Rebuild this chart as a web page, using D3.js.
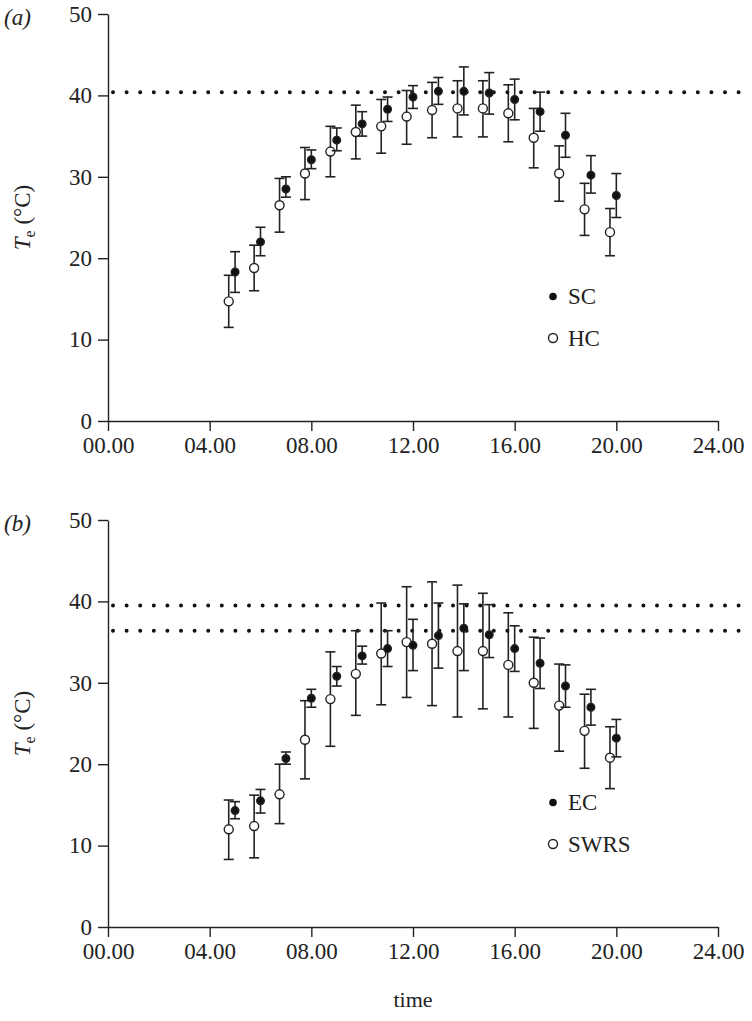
<!DOCTYPE html><html><head><meta charset="utf-8"><script src="https://cdn.jsdelivr.net/npm/d3@7"></script>
<style>body{margin:0;background:#fff}text{font-family:"Liberation Serif","DejaVu Serif",serif;fill:#222}</style></head><body>
<svg id="c" width="752" height="1021"></svg>
<script>
const hours=[5,6,7,8,9,10,11,12,13,14,15,16,17,18,19,20];
const xTicks=["00.00","04.00","08.00","12.00","16.00","20.00","24.00"];
const yTicks=[0,10,20,30,40,50];
const scMean=[18.3,22.0,28.5,32.1,34.5,36.5,38.3,39.8,40.5,40.5,40.3,39.5,38.0,35.1,30.2,27.7];
const scLo=[15.8,20.3,27.5,31.0,33.2,35.0,36.8,38.4,38.9,37.6,37.7,37.0,35.6,32.4,28.0,25.0];
const scHi=[20.8,23.8,30.0,33.3,36.0,38.0,39.8,41.2,42.2,43.5,42.8,42.0,40.4,37.8,32.6,30.4];
const hcMean=[14.7,18.8,26.5,30.4,33.1,35.5,36.2,37.4,38.2,38.4,38.4,37.8,34.8,30.4,26.0,23.2];
const hcLo=[11.5,16.0,23.2,27.2,30.0,32.2,32.9,34.0,34.8,34.9,34.9,34.3,31.1,27.0,22.8,20.3];
const hcHi=[17.9,21.6,29.8,33.6,36.2,38.8,39.5,40.6,41.6,41.8,41.8,41.3,38.4,33.8,29.2,26.1];
const ecMean=[14.3,15.5,20.7,28.1,30.8,33.3,34.2,34.6,35.8,36.7,35.9,34.2,32.4,29.6,27.0,23.2];
const ecLo=[13.3,14.0,20.0,27.0,29.6,32.3,32.0,31.5,31.8,31.5,33.1,31.4,29.3,27.0,24.8,20.9];
const ecHi=[15.4,16.9,21.5,29.2,32.0,34.5,36.4,37.8,39.8,39.7,39.6,37.0,35.5,32.2,29.2,25.5];
const swMean=[12.0,12.4,16.3,23.0,28.0,31.1,33.6,35.0,34.8,33.9,33.9,32.2,30.0,27.2,24.1,20.8];
const swLo=[8.3,8.5,12.7,18.2,22.2,26.0,27.3,28.2,27.2,25.8,26.8,25.8,24.4,21.6,19.5,17.0];
const swHi=[15.6,16.2,20.0,27.8,33.8,36.4,39.8,41.8,42.4,42.0,41.0,38.6,35.6,32.3,28.6,24.6];
const refA=[40.4], refB=[39.5,36.4];
const svg=d3.select("#c");
function styleAxis(a){a.selectAll("text").attr("font-size",23);a.select(".domain").attr("stroke","#222").attr("stroke-width",1.4);a.selectAll("line").attr("stroke","#222").attr("stroke-width",1.4);}
function panel(top,bottom,label,filled,open,names,refs){
  const x=d3.scaleLinear().domain([0,24]).range([108,718]);
  const y=d3.scaleLinear().domain([0,50]).range([bottom,top]);
  const g=svg.append("g");
  g.append("g").attr("transform",`translate(0,${bottom})`).call(d3.axisBottom(x).tickValues([0,4,8,12,16,20,24]).tickFormat((d,i)=>xTicks[i]).tickSize(10).tickSizeOuter(0).tickPadding(6)).call(styleAxis);
  g.append("g").attr("transform",`translate(108,0)`).call(d3.axisLeft(y).tickValues(yTicks).tickSize(10).tickSizeOuter(0).tickPadding(6)).call(styleAxis);
  refs.forEach(r=>g.append("line").attr("x1",x(0)+5).attr("x2",740).attr("y1",y(r)).attr("y2",y(r)).attr("stroke","#111").attr("stroke-width",4).attr("stroke-linecap","round").attr("stroke-dasharray","0 13.6"));
  g.append("text").attr("x",4).attr("y",top+11).attr("font-size",23).attr("font-style","italic").text(label);
  const yl=g.append("text").attr("transform",`translate(30,${(top+bottom)/2}) rotate(-90)`).attr("text-anchor","middle").attr("font-size",23);
  yl.append("tspan").attr("font-style","italic").text("T");
  yl.append("tspan").attr("font-size",16).attr("dy",5).text("e");
  yl.append("tspan").attr("dy",-5).text(" (°C)");
  function series(m,lo,hi,off,fill){
    hours.forEach((h,i)=>{
      const cx=x(h+off);
      g.append("line").attr("x1",cx).attr("x2",cx).attr("y1",y(lo[i])).attr("y2",y(hi[i])).attr("stroke","#222").attr("stroke-width",1.6);
      [lo[i],hi[i]].forEach(v=>g.append("line").attr("x1",cx-5).attr("x2",cx+5).attr("y1",y(v)).attr("y2",y(v)).attr("stroke","#222").attr("stroke-width",1.6));
    });
    hours.forEach((h,i)=>g.append("circle").attr("cx",x(h+off)).attr("cy",y(m[i])).attr("r",fill?3.8:4.5).attr("fill",fill?"#111":"#fff").attr("stroke","#222").attr("stroke-width",1.4));
  }
  series(open[0],open[1],open[2],-0.25,false);
  series(filled[0],filled[1],filled[2],0,true);
  const ly1=y(15.3),ly2=y(10.2);
  g.append("circle").attr("cx",553).attr("cy",ly1).attr("r",3.8).attr("fill","#111");
  g.append("circle").attr("cx",553).attr("cy",ly2).attr("r",4.5).attr("fill","#fff").attr("stroke","#222").attr("stroke-width",1.4);
  g.append("text").attr("x",568).attr("y",ly1+8).attr("font-size",23).text(names[0]);
  g.append("text").attr("x",568).attr("y",ly2+8).attr("font-size",23).text(names[1]);
}
panel(14,421,"(a)",[scMean,scLo,scHi],[hcMean,hcLo,hcHi],["SC","HC"],refA);
panel(520,927,"(b)",[ecMean,ecLo,ecHi],[swMean,swLo,swHi],["EC","SWRS"],refB);
svg.append("text").attr("x",413).attr("y",1007).attr("text-anchor","middle").attr("font-size",22).text("time");
</script></body></html>
